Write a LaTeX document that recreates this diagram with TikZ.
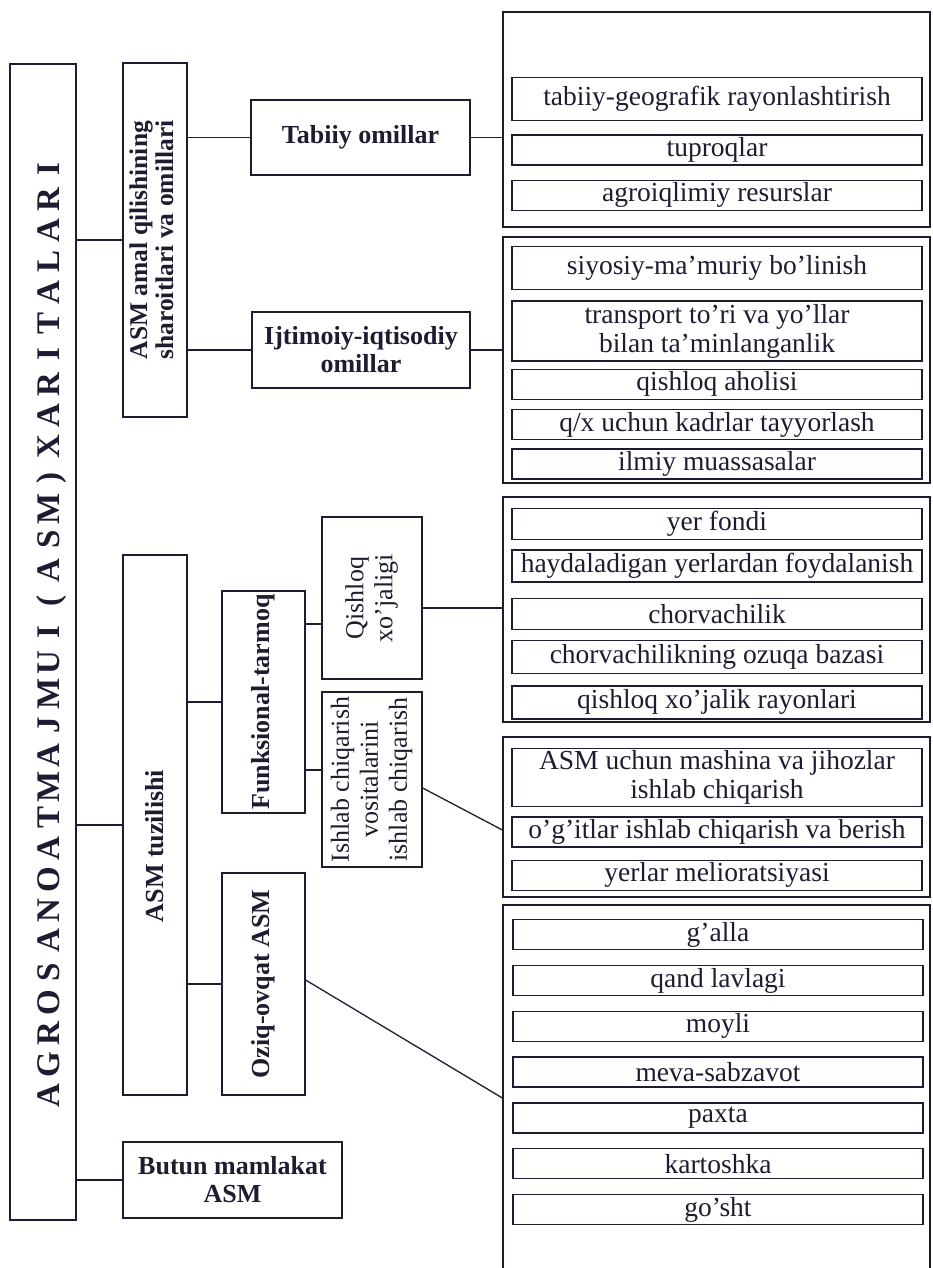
\documentclass[tikz,border=0pt]{standalone}
\usepackage{fontspec}
\setmainfont{Liberation Serif}
\usepackage{graphicx}
\usepackage{xcolor}
\usepackage{tikz}
\usetikzlibrary{positioning}
\definecolor{ink}{RGB}{30,28,48}
\newcommand{\vtext}[1]{\rotatebox{90}{\begin{tabular}{@{}c@{}}#1\end{tabular}}}

\begin{document}
\begin{tikzpicture}[x=1pt,y=-1pt,
  bx/.style={draw=ink,line width=1.3pt,inner sep=0pt,align=center,text=ink},
  hd/.style={bx,font=\fontsize{26}{28}\selectfont\bfseries},
  sub/.style={bx,font=\fontsize{26}{29}\selectfont},
  it/.style={bx,minimum width=410pt,minimum height=30pt,font=\fontsize{27.5}{29}\selectfont},
  grp/.style={draw=ink,line width=1.3pt,minimum width=427pt,inner sep=0pt},
  ln/.style={draw=ink,line width=1.3pt}]
  \useasboundingbox (0,0) rectangle (932,1268);
  % left side
  \node[hd,font=\fontsize{33}{35}\selectfont\bfseries,minimum width=66pt,minimum height=1156pt] (atlas) at (43,642)
    {\rotatebox{90}{\raisebox{-9pt}[24pt][8pt]{\hspace*{20pt}\foreach \ltr in {A,G,R,O,S,A,N,O,A,T,M,A,J,M,U,I,{(},A,S,M,{)},X,A,R,I,T,A,L,A,R,I}{\makebox[30.9pt]{\ltr}}}}};
  \node[hd,font=\fontsize{25.5}{26}\selectfont\bfseries,minimum width=64pt,minimum height=354pt] (cond) at (155,240)
    {\vtext{ASM amal qilishining\\sharoitlari va omillari}};
  \node[hd,minimum width=219pt,minimum height=75pt] (tab) at (360.5,137.5) {Tabiiy omillar};
  \node[hd,minimum width=218pt,minimum height=76pt] (ijt) at (361,350) {Ijtimoiy-iqtisodiy\\omillar};
  \node[hd,minimum width=64pt,minimum height=540pt] (tuz) at (155,825) {\rotatebox{90}{ASM tuzilishi\hspace{42pt}}};
  \node[hd,minimum width=83pt,minimum height=222pt] (funk) at (263.5,702) {\rotatebox{90}{Funksional-tarmoq}};
  \node[hd,minimum width=83pt,minimum height=222pt] (oziq) at (263.5,984) {\rotatebox{90}{Oziq-ovqat ASM}};
  \node[sub,minimum width=100pt,minimum height=162pt] (qx) at (372,598) {\vtext{Qishloq\\xo’jaligi}};
  \node[sub,minimum width=100pt,minimum height=175pt] (ich) at (372,779.5)
    {\vtext{Ishlab chiqarish\\vositalarini\\ishlab chiqarish}};
  \node[hd,minimum width=219pt,minimum height=76pt] (all) at (232.5,1180) {Butun mamlakat\\ASM};
  % right side
  \node[grp,minimum height=215pt] (g1) at (716.5,119.5) {};
  \node[grp,minimum height=246pt] (g2) at (716.5,360) {};
  \node[grp,minimum height=225pt] (g3) at (716.5,609.5) {};
  \node[grp,minimum height=160pt] (g4) at (716.5,817) {};
  \node[grp,minimum height=367pt] (g5) at (716.5,1088.5) {};
  \node[it,minimum height=43pt,anchor=north] (t1) at (717,77) {tabiiy-geografik rayonlashtirish};
  \node[it,below=13pt of t1] (t2) {tuproqlar};
  \node[it,below=14pt of t2] (t3) {agroiqlimiy resurslar};
  \node[it,minimum height=43pt,anchor=north] (s1) at (717,246) {siyosiy-ma’muriy bo’linish};
  \node[it,minimum height=60pt,below=10pt of s1] (s2) {transport to’ri va yo’llar\\bilan ta’minlanganlik};
  \node[it,below=7pt of s2] (s3) {qishloq aholisi};
  \node[it,below=9pt of s3] (s4) {q/x uchun kadrlar tayyorlash};
  \node[it,below=8pt of s4] (s5) {ilmiy muassasalar};
  \node[it,minimum height=31pt,anchor=north] (f1) at (717,508) {yer fondi};
  \node[it,minimum height=32pt,below=9pt of f1] (f2) {haydaladigan yerlardan foydalanish};
  \node[it,minimum height=31pt,below=15pt of f2] (f3) {chorvachilik};
  \node[it,minimum height=33pt,below=10pt of f3] (f4) {chorvachilikning ozuqa bazasi};
  \node[it,minimum height=33pt,below=11pt of f4] (f5) {qishloq xo’jalik rayonlari};
  \node[it,minimum height=58pt,anchor=north] (m1) at (717,748) {ASM uchun mashina va jihozlar\\ishlab chiqarish};
  \node[it,below=9pt of m1] (m2) {o’g’itlar ishlab chiqarish va berish};
  \node[it,below=12pt of m2] (m3) {yerlar melioratsiyasi};
  \node[it,anchor=north] (k1) at (718,919) {g’alla};
  \node[it,below=14.5pt of k1] (k2) {qand lavlagi};
  \node[it,below=14.5pt of k2] (k3) {moyli};
  \node[it,below=14.5pt of k3] (k4) {meva-sabzavot};
  \node[it,below=14.5pt of k4] (k5) {paxta};
  \node[it,below=14.5pt of k5] (k6) {kartoshka};
  \node[it,below=14.5pt of k6] (k7) {go’sht};
  % links
  \draw[ln] (atlas.east |- cond) -- (cond.west);
  \draw[ln] (atlas.east |- tuz) -- (tuz.west);
  \draw[ln] (atlas.east |- all) -- (all.west);
  \draw[ln] (cond.east |- tab) -- (tab.west);
  \draw[ln] (cond.east |- ijt) -- (ijt.west);
  \draw[ln] (tab.east) -- (g1.west |- tab.east);
  \draw[ln] (ijt.east) -- (g2.west |- ijt.east);
  \draw[ln] (tuz.east |- funk) -- (funk.west);
  \draw[ln] (tuz.east |- oziq) -- (oziq.west);
  \draw[ln] ([yshift=-26pt]qx.west) coordinate (q1) -- (funk.east |- q1);
  \draw[ln] ([yshift=9.5pt]ich.west) coordinate (q2) -- (funk.east |- q2);
  \draw[ln] ([yshift=-10pt]qx.east) coordinate (q3) -- (g3.west |- q3);
  \draw[ln] ([yshift=-8.5pt]ich.east) -- ([yshift=-13pt]g4.west);
  \draw[ln] ([yshift=4pt]oziq.east) -- ([yshift=-9.5pt]g5.west);
\end{tikzpicture}
\end{document}
